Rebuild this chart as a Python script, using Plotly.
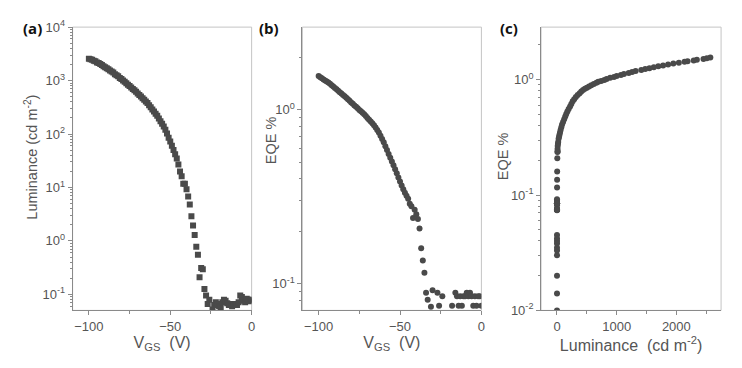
import plotly.graph_objects as go

# ---------------- data ----------------
vgs = [-100, -99, -98, -97, -96, -95, -94, -93, -92, -91, -90, -89, -88, -87, -86, -85, -84, -83, -82, -81,
       -80, -79, -78, -77, -76, -75, -74, -73, -72, -71, -70, -69, -68, -67, -66, -65, -64, -63, -62, -61,
       -60, -59, -58, -57, -56, -55, -54, -53, -52, -51, -50, -49, -48, -47, -46, -45, -44, -43, -42, -41,
       -40, -39, -38, -37, -36, -35, -34, -33, -32, -31, -30, -29, -28, -27, -26, -25, -24, -23, -22, -21,
       -20, -19, -18, -17, -16, -15, -14, -13, -12, -11, -10, -9, -8, -7, -6, -5, -4, -3, -2, -1, 0]

luminance = [2570, 2512, 2455, 2344, 2291, 2188, 2138, 2042, 1950, 1862, 1778, 1698, 1622, 1549, 1479, 1413,
             1318, 1259, 1202, 1122, 1072, 1000, 955, 891, 832, 794, 741, 692, 661, 617, 575, 537, 501, 468,
             437, 407, 380, 347, 316, 288, 263, 240, 219, 195, 174, 155, 138, 120, 102, 85.1, 72.4, 60.3,
             50.1, 41.7, 34.7, 26.9, 20.0, 16.2, 11.7, 11.7, 9.3, 6.8, 4.8, 2.9, 1.95, 1.29, 0.78, 0.55,
             0.21, 0.31, 0.295, 0.126, 0.095, 0.066, 0.079, 0.045, 0.052, 0.063, 0.071, 0.066, 0.060, 0.056,
             0.071, 0.079, 0.076, 0.068, 0.063, 0.066, 0.060, 0.063, 0.066, 0.063, 0.071, 0.095, 0.089,
             0.076, 0.071, 0.083, 0.079, 0.074, 0.079]

eqe = [1.556, 1.535, 1.514, 1.489, 1.469, 1.449, 1.429, 1.406, 1.380, 1.355, 1.330, 1.306, 1.282, 1.259,
       1.236, 1.213, 1.191, 1.169, 1.146, 1.122, 1.099, 1.079, 1.057, 1.038, 1.016, 0.995, 0.977, 0.959,
       0.940, 0.918, 0.895, 0.875, 0.853, 0.834, 0.813, 0.789, 0.764, 0.738, 0.708, 0.678, 0.649, 0.617,
       0.586, 0.557, 0.530, 0.504, 0.479, 0.454, 0.431, 0.408, 0.387, 0.367, 0.349, 0.333, 0.320, 0.308,
       0.288, 0.279, 0.239, 0.266, 0.251, 0.236, 0.208, 0.160, 0.136, 0.116, 0.089, 0.081, 0.045, 0.074,
       0.092, 0.040, 0.042, 0.089, 0.075, 0.035, 0.085, 0.020, 0.038, 0.014, 0.030, 0.033, 0.075, 0.010,
       0.089, 0.085, 0.075, 0.085, 0.075, 0.085, 0.085, 0.089, 0.085, 0.089, 0.085, 0.075, 0.085, 0.075,
       0.085, 0.085, 0.075]

lum_ticks = [0.1, 1, 10, 100, 1000, 10000]
lum_ticktext = ["10<sup>-1</sup>", "10<sup>0</sup>", "10<sup>1</sup>", "10<sup>2</sup>", "10<sup>3</sup>", "10<sup>4</sup>"]
eqe_ticks_b = [0.1, 1]
eqe_ticktext_b = ["10<sup>-1</sup>", "10<sup>0</sup>"]
eqe_ticks_c = [0.01, 0.1, 1]
eqe_ticktext_c = ["10<sup>-2</sup>", "10<sup>-1</sup>", "10<sup>0</sup>"]
vgs_ticks = [-100, -50, 0]
lum_lin_ticks = [0, 1000, 2000]

# ---------------- style ----------------
MARK = "#4a4a4a"
TXT = "#555555"
AXC = "#8a8a8a"
BOX = "#c4c4c4"
FONT = "Liberation Sans"

log_minor = [m * 10 ** e for e in range(-3, 5) for m in range(2, 10)]

fig = go.Figure()
fig.add_trace(go.Scatter(x=vgs, y=luminance, mode="markers", xaxis="x", yaxis="y",
                         marker=dict(symbol="square", size=6, color=MARK), showlegend=False))
fig.add_trace(go.Scatter(x=vgs, y=eqe, mode="markers", xaxis="x2", yaxis="y2",
                         marker=dict(symbol="circle", size=6, color=MARK), showlegend=False))
fig.add_trace(go.Scatter(x=luminance, y=eqe, mode="markers", xaxis="x3", yaxis="y3",
                         marker=dict(symbol="circle", size=6, color=MARK), showlegend=False))

W, H = 742, 368
ydom = [1 - 316 / H, 1 - 19 / H]
xdoms = [[73 / W, 253 / W], [304 / W, 484 / W], [544 / W, 725 / W]]

tickfont = dict(family=FONT, size=13, color=TXT)
titlefont = dict(family=FONT, size=16, color=TXT)

def xaxis(dom, rng, tickvals, minorvals, title, anchor):
    return dict(domain=dom, range=rng, anchor=anchor, showgrid=False, zeroline=False,
                showline=True, linecolor=AXC, linewidth=1, ticks="outside", ticklen=4,
                tickcolor=AXC, tickvals=tickvals, tickfont=tickfont,
                minor=dict(ticks="outside", ticklen=3, tickcolor=AXC, tickvals=minorvals, showgrid=False),
                title=dict(text=title, font=titlefont, standoff=3))

def yaxis(rng, tickvals, ticktext, anchor):
    return dict(domain=ydom, type="log", range=rng, anchor=anchor, showgrid=False, zeroline=False,
                showline=True, linecolor=AXC, linewidth=1, ticks="outside", ticklen=4,
                tickcolor=AXC, tickvals=tickvals, ticktext=ticktext, tickfont=tickfont,
                minor=dict(ticks="outside", ticklen=2, tickcolor=AXC, tickvals=log_minor, showgrid=False))

fig.update_layout(
    width=W, height=H, margin=dict(l=0, r=0, t=0, b=0),
    paper_bgcolor="white", plot_bgcolor="white",
    xaxis=xaxis(xdoms[0], [-110, 0], vgs_ticks, [-75, -25], "V<sub>GS</sub>  (V)", "y"),
    xaxis2=xaxis(xdoms[1], [-110, 0], vgs_ticks, [-75, -25], "V<sub>GS</sub>  (V)", "y2"),
    xaxis3=xaxis(xdoms[2], [-267, 2750], lum_lin_ticks, [500, 1500, 2500], "Luminance  (cd m<sup>-2</sup>)", "y3"),
    yaxis=yaxis([-1.30, 4.0], lum_ticks, lum_ticktext, "x"),
    yaxis2=yaxis([-1.152, 0.473], eqe_ticks_b, eqe_ticktext_b, "x2"),
    yaxis3=yaxis([-2.0, 0.456], eqe_ticks_c, eqe_ticktext_c, "x3"),
)

# y-axis titles, placed like the reference
for text, xc, yc, fs in [("Luminance (cd m<sup>-2</sup>)", 31, 155, 14.5), ("EQE %", 272, 138, 14.5),
                         ("EQE %", 506, 154, 14.5)]:
    fig.add_annotation(text=text, xref="paper", yref="paper", x=xc / W, y=1 - yc / H,
                       xanchor="center", yanchor="middle", textangle=-90, showarrow=False,
                       font=dict(family=FONT, size=fs, color=TXT))

# light grey frame around each panel
for xr, yr in [("x", "y"), ("x2", "y2"), ("x3", "y3")]:
    fig.add_shape(type="rect", xref=f"{xr} domain", yref=f"{yr} domain", x0=0, x1=1, y0=0, y1=1,
                  line=dict(color=BOX, width=1), layer="below")

# panel letters
for label, xr in [("(a)", 44 / W), ("(b)", 283 / W), ("(c)", 523 / W)]:
    fig.add_annotation(text=f"<b>{label}</b>", xref="paper", yref="paper", x=xr, y=1 - 20 / H,
                       xanchor="right", yanchor="middle", showarrow=False,
                       font=dict(family="Open Sans", size=15, color="#111111"))

# remove the default page margin so the figure sits at the window origin
fig.write_html("out.html", config={"displayModeBar": False},
               post_script="document.body.style.margin='0px';")
